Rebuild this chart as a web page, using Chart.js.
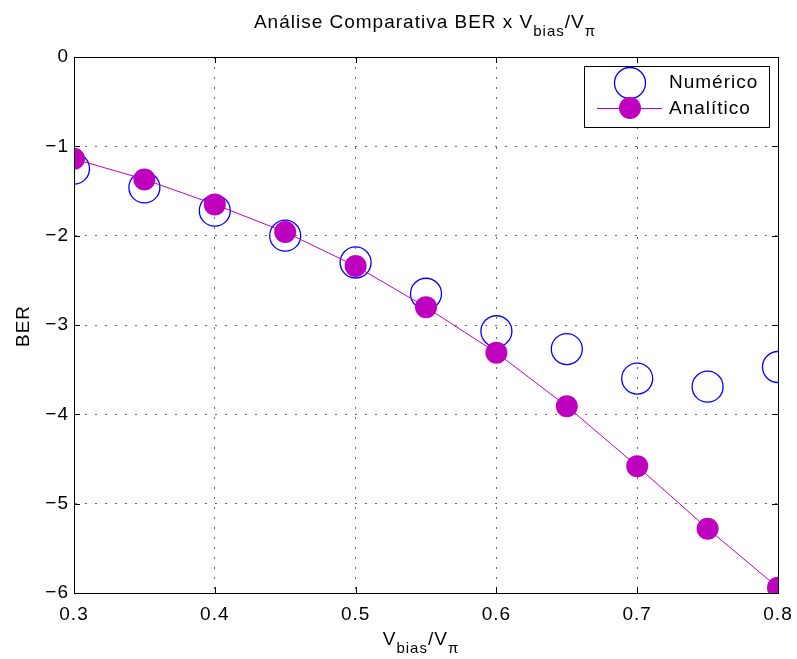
<!DOCTYPE html>
<html>
<head>
<meta charset="utf-8">
<script src="https://cdn.jsdelivr.net/npm/chart.js@4/dist/chart.umd.min.js"></script>
<style>
  html, body { margin: 0; padding: 0; background: #fff; }
  #wrap { width: 797px; height: 659px; }
</style>
</head>
<body>
<div id="wrap"><canvas id="chart" width="797" height="659"></canvas></div>
<script>
// Values
const xValues = [0.3, 0.35, 0.4, 0.45, 0.5, 0.55, 0.6, 0.65, 0.7, 0.75, 0.8];
const numerico = [-1.25, -1.46, -1.72, -2.00, -2.30, -2.65, -3.07, -3.27, -3.60, -3.69, -3.47];
const analitico = [-1.14, -1.37, -1.65, -1.96, -2.34, -2.80, -3.31, -3.91, -4.58, -5.28, -5.94];
const seriesNames = ['Numérico', 'Analítico'];

const FONT = '"Liberation Sans", Arial, Helvetica, sans-serif';
const SPACING = '1px';
const BLUE = '#0000ff';
const MAGENTA = '#bf00bf';

function toPoints(ys) {
    return xValues.map((x, i) => ({ x: x, y: ys[i] }));
}

// Draws text with subscripts: parts = [[text, isSub], ...]
function drawRich(ctx, parts, cx, baseline, size, subSize) {
    let total = 0;
    const widths = parts.map(p => {
        ctx.font = (p[1] ? subSize : size) + 'px ' + FONT;
        const w = ctx.measureText(p[0]).width;
        total += w;
        return w;
    });
    let x = cx - total / 2;
    ctx.textAlign = 'left';
    ctx.textBaseline = 'alphabetic';
    parts.forEach((p, i) => {
        ctx.font = (p[1] ? subSize : size) + 'px ' + FONT;
        ctx.fillText(p[0], x, p[1] ? baseline + 8 : baseline);
        x += widths[i];
    });
}

// Box, inner ticks, titles and legend in MATLAB style
const matlabFrame = {
    id: 'matlabFrame',
    beforeDraw(chart) {
        chart.ctx.letterSpacing = SPACING;
    },
    afterDraw(chart) {
        const ctx = chart.ctx;
        const a = chart.chartArea;
        const xs = chart.scales.x;
        const ys = chart.scales.y;
        ctx.save();
        ctx.letterSpacing = SPACING;
        ctx.strokeStyle = '#000';
        ctx.lineWidth = 1;

        // inner ticks on all four sides
        const tl = 6;
        ctx.beginPath();
        xs.ticks.forEach(t => {
            const px = Math.round(xs.getPixelForValue(t.value)) + 0.5;
            ctx.moveTo(px, a.bottom); ctx.lineTo(px, a.bottom - tl);
            ctx.moveTo(px, a.top); ctx.lineTo(px, a.top + tl);
        });
        ys.ticks.forEach(t => {
            const py = Math.round(ys.getPixelForValue(t.value)) + 0.5;
            ctx.moveTo(a.left, py); ctx.lineTo(a.left + tl, py);
            ctx.moveTo(a.right, py); ctx.lineTo(a.right - tl, py);
        });
        ctx.stroke();

        // box
        ctx.strokeRect(Math.round(a.left) + 0.5, Math.round(a.top) + 0.5,
            Math.round(a.right - a.left), Math.round(a.bottom - a.top));

        // titles
        ctx.fillStyle = '#000';
        drawRich(ctx, [['Análise Comparativa BER x V', false], ['bias', true], ['/V', false], ['π', true]],
            425, 28, 19, 15);
        drawRich(ctx, [['V', false], ['bias', true], ['/V', false], ['π', true]],
            421, 645, 19, 15);

        ctx.save();
        ctx.translate(29, 326);
        ctx.rotate(-Math.PI / 2);
        ctx.font = '19px ' + FONT;
        ctx.textAlign = 'center';
        ctx.textBaseline = 'alphabetic';
        ctx.fillText('BER', 0, 0);
        ctx.restore();

        // legend
        const lx = 584, ly = 66, lw = 185, lh = 61;
        ctx.fillStyle = '#fff';
        ctx.fillRect(lx, ly, lw, lh);
        ctx.strokeRect(lx + 0.5, ly + 0.5, lw, lh);

        ctx.strokeStyle = BLUE;
        ctx.lineWidth = 1.3;
        ctx.beginPath();
        ctx.arc(630, 83, 15.5, 0, Math.PI * 2);
        ctx.stroke();

        ctx.strokeStyle = MAGENTA;
        ctx.lineWidth = 1;
        ctx.beginPath();
        ctx.moveTo(597, 108.5); ctx.lineTo(662, 108.5);
        ctx.stroke();
        ctx.fillStyle = MAGENTA;
        ctx.beginPath();
        ctx.arc(630, 108, 11, 0, Math.PI * 2);
        ctx.fill();

        ctx.fillStyle = '#000';
        ctx.font = '19px ' + FONT;
        ctx.textAlign = 'left';
        ctx.textBaseline = 'middle';
        ctx.fillText(seriesNames[0], 669, 83);
        ctx.fillText(seriesNames[1], 669, 109);

        ctx.restore();
    }
};

new Chart(document.getElementById('chart'), {
    type: 'scatter',
    data: {
        datasets: [
            {
                label: seriesNames[0],
                data: toPoints(numerico),
                showLine: false,
                pointStyle: 'circle',
                pointRadius: 15.5,
                pointBorderWidth: 1.3,
                pointBorderColor: BLUE,
                pointBackgroundColor: 'rgba(0,0,0,0)',
                order: 2
            },
            {
                label: seriesNames[1],
                data: toPoints(analitico),
                showLine: true,
                borderColor: MAGENTA,
                borderWidth: 1,
                pointRadius: 11,
                pointBorderWidth: 0,
                pointBackgroundColor: MAGENTA,
                order: 1
            }
        ]
    },
    options: {
        responsive: false,
        animation: false,
        events: [],
        layout: { padding: { top: 57, right: 19, left: 0, bottom: 0 } },
        plugins: {
            legend: { display: false },
            title: { display: false },
            tooltip: { enabled: false }
        },
        scales: {
            x: {
                type: 'linear',
                min: 0.3,
                max: 0.8,
                afterFit(scale) {
                    scale.height = 66;
                    scale.paddingLeft = 0;
                    scale.paddingRight = 0;
                },
                ticks: {
                    stepSize: 0.1,
                    padding: 10,
                    color: '#000',
                    font: { family: FONT, size: 19 },
                    callback: v => (Math.round(v * 10) / 10).toFixed(1)
                },
                grid: {
                    drawTicks: false,
                    color: 'rgba(0,0,0,0.6)',
                    lineWidth: 1
                },
                border: { display: true, color: '#000', width: 1, dash: [2, 8] }
            },
            y: {
                type: 'linear',
                min: -6,
                max: 0,
                afterFit(scale) { scale.width = 74; },
                ticks: {
                    stepSize: 1,
                    padding: 5,
                    color: '#000',
                    font: { family: FONT, size: 19 },
                    callback: v => (v < 0 ? '\u2212' + Math.abs(v) : '0')
                },
                grid: {
                    drawTicks: false,
                    color: 'rgba(0,0,0,0.6)',
                    lineWidth: 1
                },
                border: { display: true, color: '#000', width: 1, dash: [2, 8] }
            }
        }
    },
    plugins: [matlabFrame]
});
</script>
</body>
</html>
